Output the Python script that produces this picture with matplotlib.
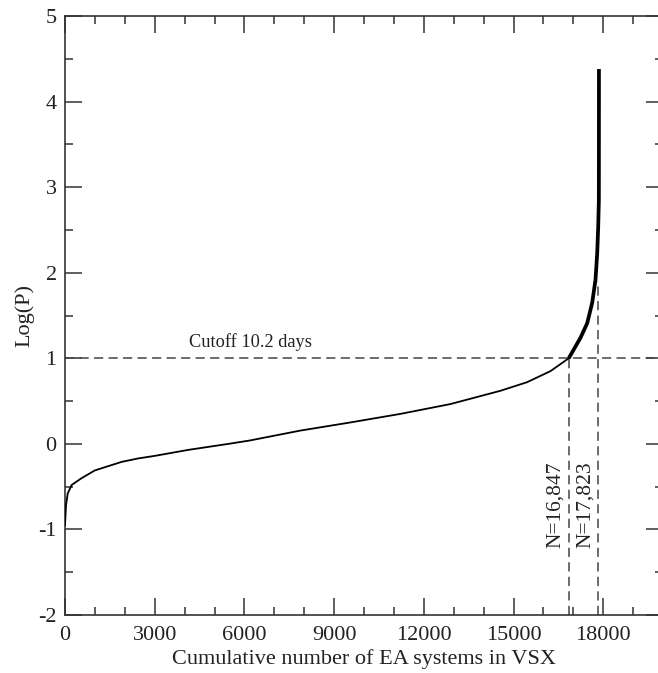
import matplotlib
matplotlib.use("Agg")
import matplotlib.pyplot as plt
from matplotlib.ticker import MultipleLocator

# cumulative number of EA systems vs log period
n_sys = [0, 33, 90, 224, 559, 1000, 1900, 2454, 3010, 4130, 5470, 6190,
         7870, 9540, 11215, 12890, 14560, 15450, 16237, 16847]
logp = [-0.95, -0.72, -0.58, -0.48, -0.40, -0.31, -0.21, -0.17, -0.14,
        -0.07, 0.0, 0.04, 0.155, 0.25, 0.35, 0.465, 0.62, 0.72, 0.85, 1.0]
# long-period tail (drawn thicker)
n_tail = [16847, 17241, 17465, 17633, 17743, 17800, 17833, 17855, 17858]
logp_tail = [1.0, 1.24, 1.41, 1.65, 1.92, 2.23, 2.54, 2.85, 4.38]

cutoff = 1.0
n_cut = 16847
n_max = 17823
logp_at_max = 1.9

plt.rcParams['font.family'] = ['Liberation Serif', 'DejaVu Serif']
plt.rcParams['axes.unicode_minus'] = False

fig = plt.figure(figsize=(6.58, 6.73), dpi=100)
ax = fig.add_axes([65/658, 58/673, 598/658, 599/673])

ax.plot(n_sys, logp, color='black', lw=1.3, zorder=3, solid_joinstyle='round')
ax.plot(n_tail, logp_tail, color='black', lw=2.7, zorder=3,
        solid_capstyle='butt', solid_joinstyle='round')

dash = dict(color='#444444', lw=1.1, ls=(0, (6, 3.5)), zorder=2)
ax.axhline(cutoff, **dash)
ax.plot([n_cut, n_cut], [-2, cutoff], **dash)
ax.plot([n_max, n_max], [-2, logp_at_max], **dash)

ax.text(4150, 1.13, 'Cutoff 10.2 days', fontsize=13.2, color='#222222')
ax.text(n_cut - 110, -0.71, 'N=16,847', rotation=90, ha='right', va='center',
        fontsize=15.5, color='#222222')
ax.text(n_max - 90, -0.71, 'N=17,823', rotation=90, ha='right', va='center',
        fontsize=15.5, color='#222222')

ax.set_xlim(0, 20000)
ax.set_ylim(-2, 5)
ax.xaxis.set_major_locator(MultipleLocator(3000))
ax.xaxis.set_minor_locator(MultipleLocator(1000))
ax.yaxis.set_major_locator(MultipleLocator(1))
ax.yaxis.set_minor_locator(MultipleLocator(0.5))
ax.tick_params(which='both', direction='in', top=True, right=True,
               labelsize=16, color='#333333', labelcolor='#222222', width=1.1,
               pad=6)
ax.tick_params(axis='x', which='both', pad=8)
ax.tick_params(which='major', length=12)
ax.tick_params(which='minor', length=6)
for s in ax.spines.values():
    s.set_color('#333333')
    s.set_linewidth(1.2)

ax.set_xlabel('Cumulative number of EA systems in VSX', fontsize=16,
              color='#222222', labelpad=3)
ax.set_ylabel('Log(P)', fontsize=16, color='#222222', labelpad=3)

fig.savefig('out.png', dpi=100)
